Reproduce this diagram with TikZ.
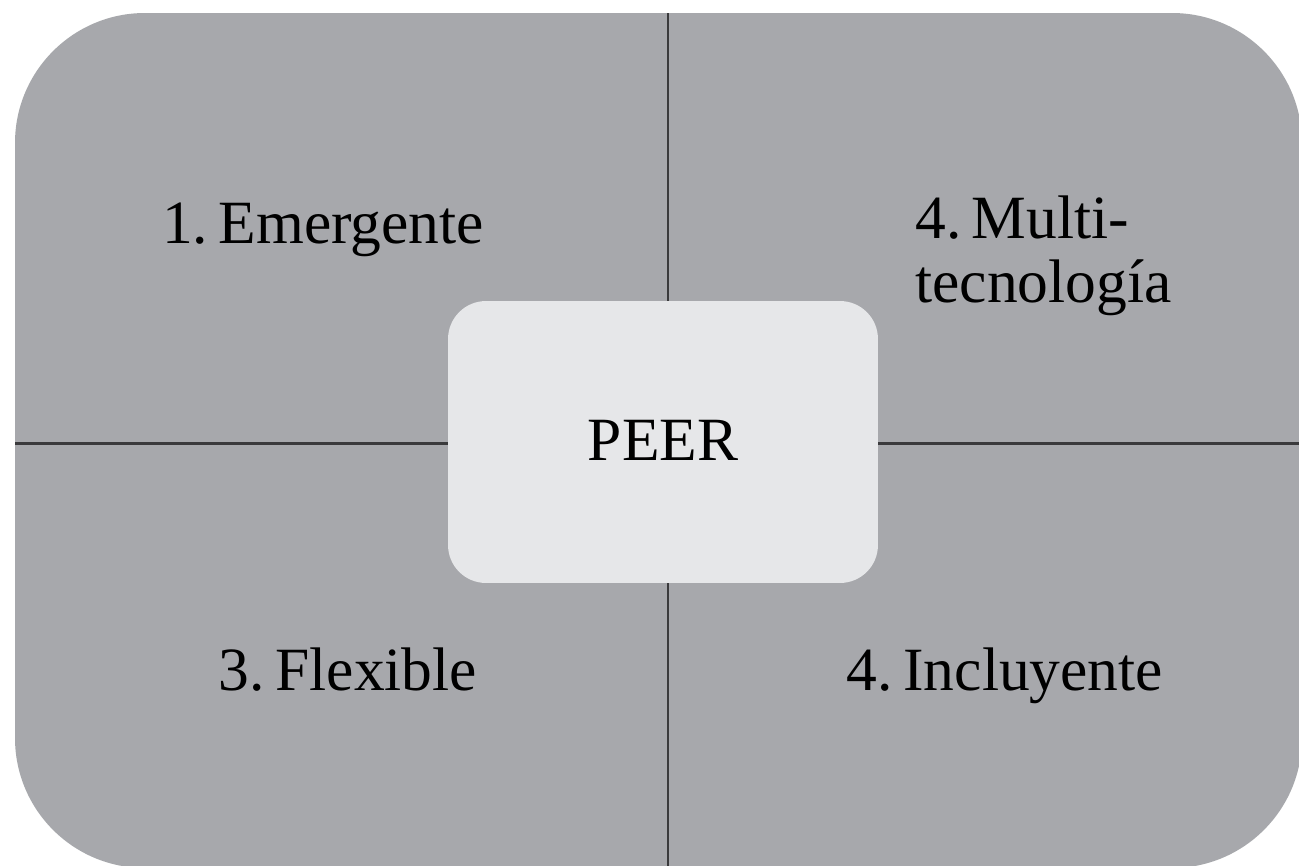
\documentclass[tikz,border=0pt]{standalone}
\usepackage{fontspec}
\setmainfont{Liberation Serif}
\definecolor{outergray}{HTML}{A7A8AC}
\definecolor{innergray}{HTML}{E6E7E9}
\definecolor{linegray}{HTML}{3A3A3C}
\begin{document}
\begin{tikzpicture}[x=0.02cm,y=-0.02cm,
  panel/.style={fill=outergray, draw=none, rounded corners=2.6cm},
  core/.style={fill=innergray, draw=none, rounded corners=0.76cm},
  divider/.style={draw=linegray, line width=1.7pt},
  lbl/.style={font=\fontsize{35}{36.5}\selectfont, text=black, inner sep=0pt}]
\useasboundingbox (0,0) rectangle (1299,866);
\fill[white] (0,0) rectangle (1299,866);
\path[panel] (15,13) rectangle (1302,868);
\coordinate (vtop) at (668,13);
\coordinate (vbot) at (668,866);
\coordinate (hleft) at (15,443);
\coordinate (hright) at (1299,443);
\draw[divider] (vtop) -- (vbot);
\draw[divider] (hleft) -- (hright);
\node[core, minimum width=8.6cm, minimum height=5.64cm] (peerbox) at (663,442) {};
\node[lbl, anchor=base] (peer) at (663,460) {PEER};
\node[lbl, anchor=base] (emerg) at (323,243) {1.\hspace{0.17em}Emergente};
\node[lbl, anchor=north west, align=left] (multi) at (915,195) {4.\hspace{0.17em}Multi-\\tecnología};
\node[lbl, anchor=base] (flex) at (348,690) {3.\hspace{0.17em}Flexible};
\node[lbl, anchor=base] (incl) at (1005,690) {4.\hspace{0.17em}Incluyente};
\end{tikzpicture}
\end{document}
